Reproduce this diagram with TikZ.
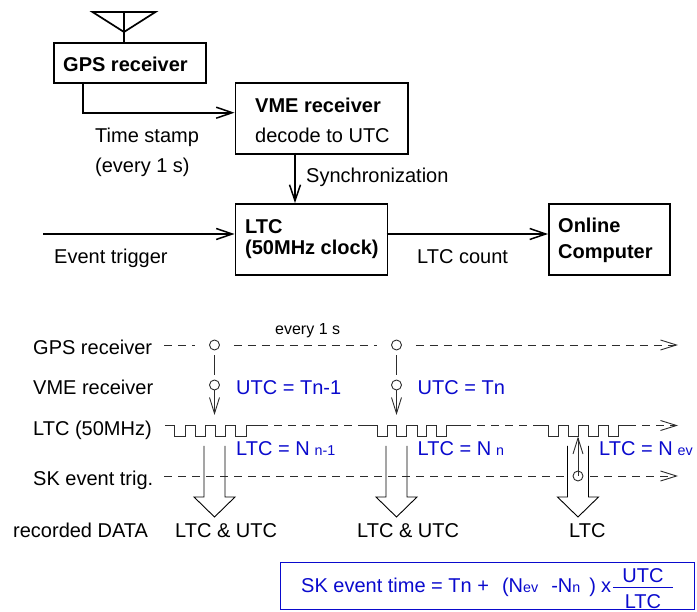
\documentclass[tikz,border=0pt]{standalone}
\usepackage{fontspec}
\setmainfont{Liberation Sans}
\usetikzlibrary{arrows.meta}
\definecolor{lblue}{RGB}{10,10,205}
\definecolor{dgray}{RGB}{45,45,45}
\newcommand{\fs}[1]{\fontsize{#1}{#1}\selectfont}
\tikzset{
  x=1pt,y=-1pt,
  box/.style={draw=black,line width=1.7pt,rectangle,inner sep=0pt,anchor=north west},
  lab/.style={anchor=base west,inner sep=0pt,font=\fs{20}},
  blab/.style={lab,font=\fs{20}\bfseries},
  blu/.style={lab,text=lblue},
  flow/.style={line width=1.7pt,-{Straight Barb[length=16pt,width=11pt,line width=1.5pt]}},
  thin line/.style={line width=0.9pt,draw=dgray},
  dash line/.style={thin line,dash pattern=on 8pt off 6pt},
  tip/.style={-{Straight Barb[length=16pt,width=10pt,line width=0.9pt]}},
  ring/.style={circle,draw=dgray,line width=0.9pt,minimum size=10pt,inner sep=0pt},
  wave/.style={line width=0.9pt,draw=dgray},
  bigarrow/.style={line width=0.9pt,draw=black,line join=miter},
}
\begin{document}
\begin{tikzpicture}
\useasboundingbox (0,0) rectangle (697,612);
% top diagram
\node[box,minimum width=152pt,minimum height=40pt] (gps) at (53,42) {};
\node[box,minimum width=172.5pt,minimum height=71pt] (vme) at (234.5,82) {};
\node[box,minimum width=152pt,minimum height=71pt] (ltc) at (234.5,203) {};
\node[box,minimum width=121pt,minimum height=71pt] (onl) at (548,203) {};
\node[blab] (gpst) at (63,72) {GPS receiver};
\node[blab] (vmet) at (255,113) {VME receiver};
\node[lab] (vmed) at (255,143) {decode to UTC};
\node[blab] (ltct) at (245,234) {LTC};
\node[blab] (ltcu) at (245,255) {(50MHz clock)};
\node[blab] (onl1) at (558,233) {Online};
\node[blab] (onl2) at (558,259) {Computer};
\node[lab] (ts1) at (95,143) {Time stamp};
\node[lab] (ts2) at (95,173) {(every 1 s)};
\node[lab] (syn) at (306,183) {Synchronization};
\node[lab] (evt) at (54,264) {Event trigger};
\node[lab] (cnt) at (417,264) {LTC count};
% antenna
\coordinate (anta) at (92.5,12);
\coordinate (antb) at (155.5,12);
\coordinate (antc) at (124,32);
\coordinate (antt) at (124,12);
\draw[line width=1.7pt,line join=miter] (anta) -- (antb) -- (antc) -- cycle;
\draw[line width=1.7pt] (antt) -- (antc) -- (antc |- gps.north);
% connectors
\coordinate (gpsout) at (83,82);
\coordinate (gpscorner) at (83,112.7);
\draw[flow] (gpsout) -- (gpscorner) -- (gpscorner -| vme.west);
\coordinate (vmeout) at (295,153);
\draw[flow] (vmeout) -- (vmeout |- ltc.north);
\coordinate (evin) at (43,234);
\draw[flow] (evin) -- (evin -| ltc.west);
\coordinate (ltcout) at (386.5,234);
\draw[flow] (ltcout) -- (ltcout -| onl.west);
% timing labels
\node[lab] (tg) at (33,355) {GPS receiver};
\node[lab] (tv) at (33,395) {VME receiver};
\node[lab] (tl) at (33,436) {LTC (50MHz)};
\node[lab] (ts) at (33,486) {SK event trig.};
\node[lab] (td) at (13,537) {recorded DATA};
\node[lab,font=\fs{16}] (every) at (275,335) {every 1 s};
% rings
\node[ring] (g1) at (214.5,345) {};
\node[ring] (g2) at (396.5,345) {};
\node[ring] (v1) at (214.5,385) {};
\node[ring] (v2) at (396.5,385) {};
\node[ring] (s3) at (578,476) {};
% dashed lines
\coordinate (gs) at (164,345);
\coordinate (ge) at (678,345);
\draw[dash line,shorten >=14pt] (gs) -- (g1);
\draw[dash line,shorten <=14pt,shorten >=14pt] (g1) -- (g2);
\draw[dash line,shorten <=14pt,tip] (g2) -- (ge);
\coordinate (ss) at (164,476);
\coordinate (se) at (678,476);
\coordinate (lse) at (678,425.5);
\coordinate (w1e) at (260,425.5);
\coordinate (w2s) at (366,425.5);
\coordinate (w2e) at (463,425.5);
\coordinate (w3s) at (538,425.5);
\coordinate (w3e) at (628,425.5);
\draw[dash line] (w1e) -- (w2s);
\draw[dash line] (w2e) -- (w3s);
\draw[dash line,tip] (w3e) -- (lse);
% waves
\draw[wave] (165,425.5) -- (174,425.5) -- (174,436) -- (185,436) -- (185,425.5) -- (195,425.5) -- (195,436) -- (205,436) -- (205,425.5) -- (215,425.5) -- (215,436) -- (225,436) -- (225,425.5) -- (235,425.5) -- (235,436) -- (246,436) -- (246,425.5) -- (w1e);
\draw[wave] (w2s) -- (377,425.5) -- (377,436) -- (387,436) -- (387,425.5) -- (396.5,425.5) -- (396.5,436) -- (406.5,436) -- (406.5,425.5) -- (417,425.5) -- (417,436) -- (426,436) -- (426,425.5) -- (436,425.5) -- (436,436) -- (446,436) -- (446,425.5) -- (w2e);
\draw[wave] (w3s) -- (548,425.5) -- (548,436) -- (558,436) -- (558,425.5) -- (568,425.5) -- (568,436) -- (578,436) -- (578,425.5) -- (588,425.5) -- (588,436) -- (598,436) -- (598,425.5) -- (608,425.5) -- (608,436) -- (618,436) -- (618,425.5) -- (w3e);
% vertical links
\coordinate (a1) at (214.5,415);
\coordinate (a2) at (396.5,415);
\coordinate (a3) at (578,436.5);
\draw[thin line,shorten <=5pt,shorten >=5pt] (g1) -- (v1);
\draw[thin line,shorten <=5pt,shorten >=5pt] (g2) -- (v2);
\draw[thin line,tip] (v1) -- (a1);
\draw[thin line,tip] (v2) -- (a2);
\draw[thin line,tip] (s3.center) -- (a3);
% big arrows
\foreach \c in {214.5,396.5,578}{
  \draw[bigarrow] (\c-10.5,446) -- (\c-10.5,497) -- (\c-20.5,497) -- (\c,517) -- (\c+20.5,497) -- (\c+10.5,497) -- (\c+10.5,446);
}
% SK line drawn over shafts
\draw[dash line,shorten >=7pt] (ss) -- (s3);
\draw[dash line,shorten <=7pt,tip] (s3) -- (se);
% blue labels
\node[blu] (u1) at (236,395) {UTC = Tn-1};
\node[blu] (u2) at (417.5,395) {UTC = Tn};
\node[blu] (l1) at (236,456) {LTC = N\hspace{5pt}{\fs{14.3}n-1}};
\node[blu] (l2) at (417.5,456) {LTC = N\hspace{5pt}{\fs{14.3}n}};
\node[blu] (l3) at (599,456) {LTC = N\hspace{5pt}{\fs{14.3}ev}};
% data labels
\node[lab] (d1) at (175,537) {LTC \& UTC};
\node[lab] (d2) at (357,537) {LTC \& UTC};
\node[lab] (d3) at (569,537) {LTC};
% formula
\node[draw=lblue,line width=1pt,minimum width=414pt,minimum height=47pt,anchor=north west,inner sep=0pt] (fb) at (280,562) {};
\node[blu] (f1) at (301,592) {SK event time = Tn +\hspace{13pt}(N{\fs{14.3}ev}\hspace{13pt}-N{\fs{14.3}n}\hspace{9pt}) \hspace{-0.5pt}x};
\coordinate (fa) at (613,587);
\coordinate (fz) at (673,587);
\draw[draw=lblue,line width=1pt] (fa) -- (fz);
\node[blu,anchor=base] (f2) at (643,582) {UTC};
\node[blu,anchor=base] (f3) at (643,608) {LTC};
\end{tikzpicture}
\end{document}
